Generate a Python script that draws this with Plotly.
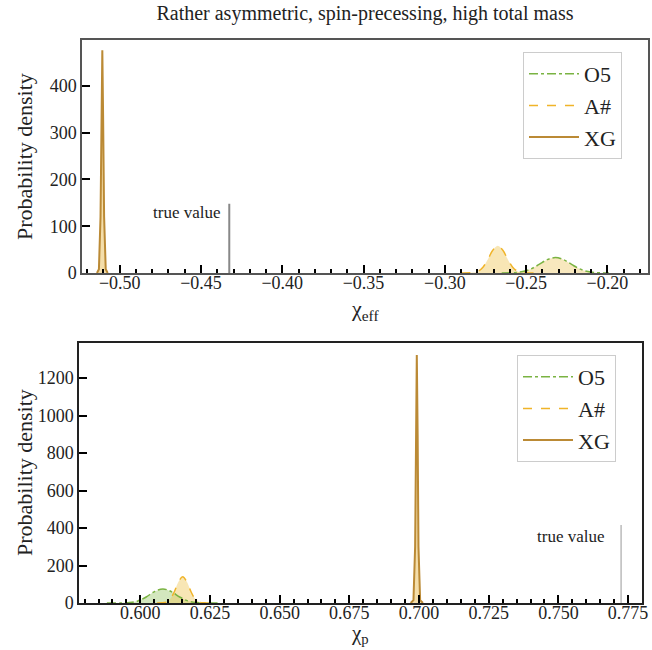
import plotly.graph_objects as go

# ---------------- data ----------------
title_text = "Rather asymmetric, spin-precessing, high total mass"
series_names = ["O5", "A#", "XG"]
y_title = "Probability density"
x_titles = ["χ<sub>eff</sub>", "χ<sub>p</sub>"]

# Top panel: chi_eff
eff_o5_x = [-0.265, -0.257, -0.252, -0.247, -0.242, -0.237, -0.232, -0.227, -0.222, -0.217, -0.212, -0.207, -0.199]
eff_o5_y = [0, 0.8, 3.1, 8.7, 18.3, 28.5, 33, 28.5, 18.3, 8.7, 3.1, 0.8, 0]
eff_a_x = [-0.2900, -0.2824, -0.2794, -0.2764, -0.2734, -0.2704, -0.2674, -0.2644, -0.2614, -0.2584, -0.2554, -0.2524, -0.2450]
eff_a_y = [0, 0.9, 4, 13, 30, 49, 58, 49, 30, 13, 4, 0.9, 0]
eff_xg_x = [-0.5140, -0.5128, -0.5118, -0.5112, -0.5107, -0.5102, -0.5096, -0.5086, -0.5074]
eff_xg_y = [0, 8, 120, 330, 476, 330, 120, 8, 0]
eff_true = -0.4326
eff_true_height = 148

# Bottom panel: chi_p
p_o5_x = [0.5880, 0.5931, 0.5961, 0.5991, 0.6021, 0.6051, 0.6081, 0.6111, 0.6141, 0.6171, 0.6201, 0.6231, 0.6280]
p_o5_y = [0, 0.4, 2.5, 11, 32, 61, 75, 61, 32, 11, 2.5, 0.4, 0]
p_a_x = [0.6060, 0.6077, 0.6092, 0.6107, 0.6122, 0.6137, 0.6152, 0.6167, 0.6182, 0.6197, 0.6212, 0.6227, 0.6245]
p_a_y = [0, 0.7, 4.7, 21, 60, 113, 140, 113, 60, 21, 4.7, 0.7, 0]
p_xg_x = [0.6970, 0.6980, 0.6986, 0.6989, 0.6992, 0.6995, 0.6998, 0.7004, 0.7014]
p_xg_y = [0, 15, 300, 900, 1323, 900, 300, 15, 0]
p_true = 0.7725
p_true_height = 416

# ---------------- styles ----------------
FONT = "Liberation Serif, Times New Roman, serif"
C_O5 = "#7ab342"
C_A = "#f0b429"
C_XG = "#bb8a35"
TXT = "#222222"

fig = go.Figure()

def add_panel(xs_list, ys_list, fills, xa, ya, legend, shapes):
    for xs, ys, fc, sh in zip(xs_list, ys_list, fills, shapes):
        fig.add_trace(go.Scatter(x=xs, y=ys, mode="lines", fill="tozeroy", fillcolor=fc,
                                 line=dict(width=0, shape=sh), hoverinfo="skip",
                                 showlegend=False, xaxis=xa, yaxis=ya))
    styles = [dict(color=C_O5, width=1.5, dash="dashdot"),
              dict(color=C_A, width=1.5, dash="dash"),
              dict(color=C_XG, width=2, dash="solid")]
    for xs, ys, name, st, sh in zip(xs_list, ys_list, series_names, styles, shapes):
        st = dict(st)
        st["shape"] = sh
        fig.add_trace(go.Scatter(x=xs, y=ys, mode="lines", name=name, line=st,
                                 xaxis=xa, yaxis=ya, legend=legend))

add_panel([eff_o5_x, eff_a_x, eff_xg_x], [eff_o5_y, eff_a_y, eff_xg_y],
          ["rgba(240,205,110,0.45)", "rgba(240,200,90,0.45)", "rgba(235,195,100,0.55)"],
          "x", "y", "legend", ["spline", "spline", "linear"])
add_panel([p_o5_x, p_a_x, p_xg_x], [p_o5_y, p_a_y, p_xg_y],
          ["rgba(130,185,70,0.35)", "rgba(240,200,90,0.45)", "rgba(235,195,100,0.55)"],
          "x2", "y2", "legend2", ["spline", "spline", "linear"])

fig.add_trace(go.Scatter(x=[eff_true, eff_true], y=[0, eff_true_height], mode="lines",
                         line=dict(color="#888888", width=2), showlegend=False,
                         xaxis="x", yaxis="y"))
fig.add_trace(go.Scatter(x=[p_true, p_true], y=[0, p_true_height], mode="lines",
                         line=dict(color="#bbbbbb", width=1.5), showlegend=False,
                         xaxis="x2", yaxis="y2"))

fig.add_annotation(x=eff_true, y=129, xref="x", yref="y", text="true value", showarrow=False,
                   xanchor="right", xshift=-6, font=dict(family=FONT, size=17, color=TXT))
fig.add_annotation(x=p_true, y=357, xref="x2", yref="y2", text="true value", showarrow=False,
                   xanchor="right", xshift=-14, font=dict(family=FONT, size=17, color=TXT))

# axis titles as positioned text
fig.add_annotation(x=365/652, y=1 - 294/650, xref="paper", yref="paper", text=x_titles[0],
                   showarrow=False, xanchor="center", yanchor="top",
                   font=dict(family=FONT, size=22, color=TXT))
fig.add_annotation(x=360/652, y=1 - 649/650, xref="paper", yref="paper", text=x_titles[1],
                   showarrow=False, xanchor="center", yanchor="bottom",
                   font=dict(family=FONT, size=21, color=TXT))
fig.add_annotation(x=25/652, y=1 - 157/650, xref="paper", yref="paper", text=y_title,
                   showarrow=False, xanchor="center", yanchor="middle", textangle=-90,
                   font=dict(family=FONT, size=22, color=TXT))
fig.add_annotation(x=25/652, y=1 - 473/650, xref="paper", yref="paper", text=y_title,
                   showarrow=False, xanchor="center", yanchor="middle", textangle=-90,
                   font=dict(family=FONT, size=22, color=TXT))

tickfont = dict(family=FONT, size=18, color=TXT)
common_x = dict(ticks="inside", ticklen=8, tickwidth=2, tickcolor="black", showgrid=False,
                zeroline=False, showline=True, mirror=True, tickfont=tickfont, automargin=False,
                ticklabelstandoff=-7)
common_y = dict(ticks="inside", ticklen=8, tickwidth=1.5, tickcolor="black", showgrid=False,
                zeroline=False, showline=True, mirror=True, tickfont=tickfont, automargin=False)

fig.update_layout(
    width=652, height=650,
    margin=dict(l=0, r=0, t=0, b=0),
    paper_bgcolor="white", plot_bgcolor="white",
    font=dict(family=FONT, color=TXT),
    title=dict(text=title_text, x=365/652, xanchor="center", y=1 - 13/650, yanchor="middle",
               font=dict(family=FONT, size=20, color=TXT)),
    xaxis=dict(common_x, domain=[82/652, 648/652], anchor="y", range=[-0.5232, -0.175],
               dtick=0.05, tick0=0, tickformat=".2f", linecolor="#555", linewidth=1.5,
               minor=dict(dtick=0.01, ticks="inside", ticklen=4, tickwidth=1.5, tickcolor="black")),
    yaxis=dict(common_y, domain=[1 - 273/650, 1 - 40/650], anchor="x", range=[0, 498], dtick=100,
               linecolor="#555", linewidth=1.5),
    xaxis2=dict(common_x, domain=[79/652, 642/652], anchor="y2", range=[0.578, 0.780],
                dtick=0.025, tick0=0, tickformat=".3f", linecolor="#222", linewidth=1.5,
                minor=dict(dtick=0.005, ticks="inside", ticklen=4, tickwidth=1.5, tickcolor="black")),
    yaxis2=dict(common_y, domain=[1 - 603/650, 1 - 343/650], anchor="x2", range=[0, 1387], dtick=200,
                linecolor="#222", linewidth=1.5),
    legend=dict(x=523/652, y=1 - 52/650, xanchor="left", yanchor="top", itemwidth=50,
                bordercolor="#cccccc", borderwidth=1, bgcolor="white",
                font=dict(family=FONT, size=22, color=TXT), tracegroupgap=0),
    legend2=dict(x=517/652, y=1 - 355/650, xanchor="left", yanchor="top", itemwidth=50,
                 bordercolor="#cccccc", borderwidth=1, bgcolor="white",
                 font=dict(family=FONT, size=22, color=TXT), tracegroupgap=0),
)

fig.write_html("out.html")
